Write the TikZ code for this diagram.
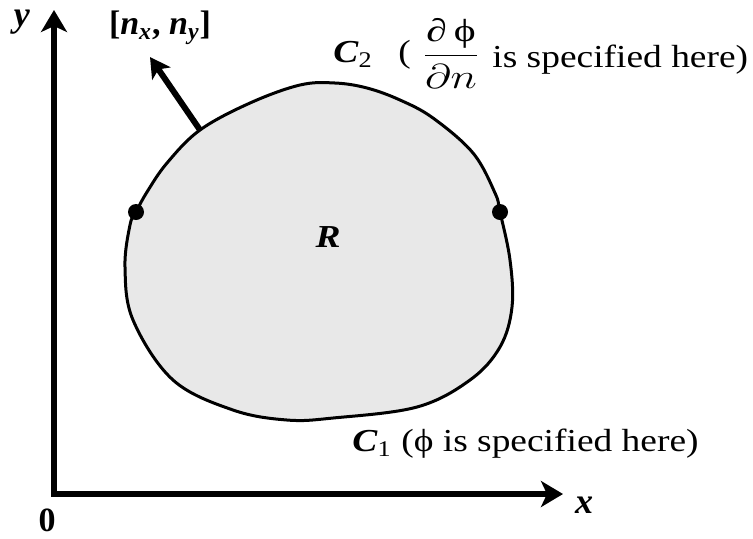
\documentclass[tikz,border=0pt]{standalone}
\usepackage{fontspec}
\setmainfont{Liberation Serif}
\usepackage{graphicx}
\usetikzlibrary{arrows.meta}
\definecolor{regionfill}{RGB}{232,232,232}
\newcommand{\wx}[1]{\scalebox{1.17}[1]{#1}}
\begin{document}
\begin{tikzpicture}[x=0.5pt,y=-0.5pt,
  font=\fontsize{16}{19}\selectfont,
  axis/.style={line width=3pt, line join=miter,
    {Stealth[length=11pt,width=13pt,inset=3pt]}-{Stealth[length=11pt,width=13pt,inset=3pt]}},
  boundary/.style={draw=black, line width=1.5pt, fill=regionfill},
  dotmark/.style={circle, fill=black, inner sep=0pt, minimum size=8pt},
  normalarrow/.style={line width=3pt, -{Stealth[length=10pt,width=11pt,inset=2.5pt]}},
  lbl/.style={inner sep=0pt}]
\useasboundingbox (0,0) rectangle (753,538);
% region
\draw[boundary] plot[smooth cycle, tension=0.6] coordinates {
  (136,212) (147,192) (167,163) (200,130) (250,103) (300,85) (335,83)
  (367,88) (400,100) (433,118) (473,153) (495,193) (500,212) (510,260)
  (512,307) (500,347) (470,380) (417,407) (333,418) (287,420) (233,410)
  (173,380) (133,320) (125,267) (130,225)};
\node[dotmark] (pl) at (136,212) {};
\node[dotmark] (pr) at (500,212) {};
% normal
\coordinate (nbase) at (200,130);
\coordinate (ntip) at (150,57);
\draw[normalarrow] (nbase) -- (ntip);
% axes
\coordinate (O) at (54,494);
\coordinate (ytip) at (54,10);
\coordinate (xtip) at (563,494);
\draw[axis] (ytip) -- (O) -- (xtip);
% labels
\node[lbl] (ylab) at (22,22) {\fontsize{18}{20}\selectfont\textbf{\textit{y}}};
\node[lbl] (xlab) at (584,505) {\fontsize{18}{20}\selectfont\textbf{\textit{x}}};
\node[lbl] (zero) at (47,520) {\fontsize{17}{20}\selectfont\textbf{0}};
\node[lbl] (nlab) at (160,28) {\fontsize{17}{20}\selectfont\textbf{[\textit{n}\textsubscript{\textit{x}}, \textit{n}\textsubscript{\textit{y}}]}};
\node[lbl] (Rlab) at (328,237) {\wx{\textbf{\textit{R}}}};
\node[lbl, anchor=base west] (c2) at (333,62) {\wx{\textbf{\textit{C}}\textsubscript{2}}};
\node[lbl, anchor=base west] (lp) at (398,62) {\wx{(}};
\node[lbl] (frac) at (451,53) {\scalebox{1.3}[1]{$\displaystyle\frac{\mbox{∂\,ϕ}}{\partial n}$}};
\node[lbl, anchor=base west] (spec2) at (492,67) {\wx{is specified here)}};
\node[lbl, anchor=base west] (c1) at (352,451) {\wx{\textbf{\textit{C}}\textsubscript{1} (ϕ is specified here)}};
\end{tikzpicture}
\end{document}
